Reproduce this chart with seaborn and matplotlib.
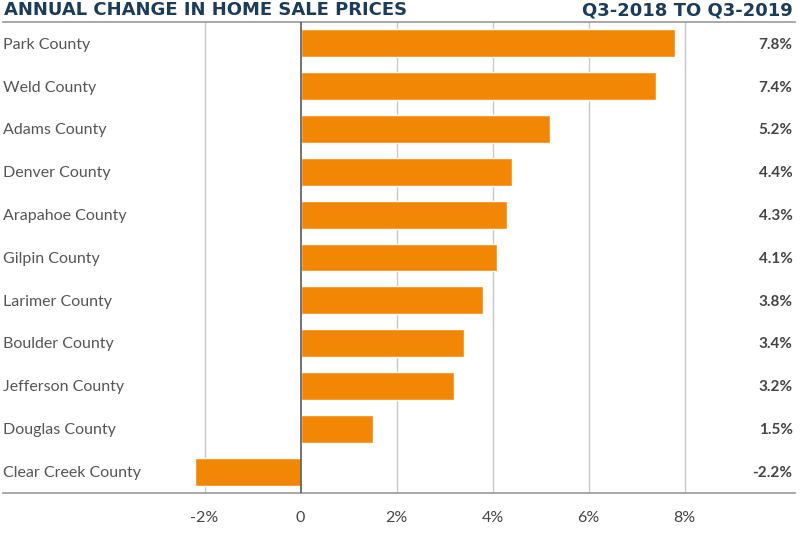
import matplotlib
matplotlib.use("Agg")
import matplotlib.pyplot as plt
import matplotlib.transforms as mtransforms
import pandas as pd
import seaborn as sns

# Data
counties = ["Park County", "Weld County", "Adams County", "Denver County",
            "Arapahoe County", "Gilpin County", "Larimer County", "Boulder County",
            "Jefferson County", "Douglas County", "Clear Creek County"]
changes = [7.8, 7.4, 5.2, 4.4, 4.3, 4.1, 3.8, 3.4, 3.2, 1.5, -2.2]
tick_values = [-2, 0, 2, 4, 6, 8]
tick_labels = ["-2%", "0", "2%", "4%", "6%", "8%"]

title_left = "ANNUAL CHANGE IN HOME SALE PRICES"
title_right = "Q3-2018 TO Q3-2019"

ORANGE = "#F28705"
NAVY = "#1D3C5A"
GRAY_TEXT = "#555555"

df = pd.DataFrame({"county": counties, "change": changes})

sns.set_style("white")
plt.rcParams["font.family"] = ["Lato", "DejaVu Sans"]

fig = plt.figure(figsize=(8, 5.4), dpi=100)
ax = fig.add_axes([3 / 800, 1 - 493 / 540, 792 / 800, 471 / 540])

sns.barplot(data=df, x="change", y="county", orient="h", color=ORANGE,
            saturation=1, width=0.65, ax=ax)

ax.set_xlim(-6.2, 10.3)
ax.set_ylim(len(counties) - 0.5, -0.5)

# vertical grid lines
for v in tick_values:
    if v == 0:
        ax.axvline(v, color="#666666", lw=1.3, zorder=3)
    else:
        ax.axvline(v, color="#c8c8c8", lw=1, zorder=0)

ax.set_xticks(tick_values)
ax.set_xticklabels(tick_labels, fontsize=11.5, color="#444444")
ax.tick_params(axis="x", length=0, pad=13)
ax.set_yticks([])
ax.set_xlabel("")
ax.set_ylabel("")

for side in ["left", "right"]:
    ax.spines[side].set_visible(False)
for side in ["top", "bottom"]:
    ax.spines[side].set_color("#999999")
    ax.spines[side].set_linewidth(1.2)

# county names on the left and values on the right
trans = mtransforms.blended_transform_factory(ax.transAxes, ax.transData)
for i, (name, val) in enumerate(zip(counties, changes)):
    ax.text(0.0, i + 0.03, name, transform=trans, ha="left", va="center",
            fontsize=11.5, color=GRAY_TEXT)
    ax.text(0.997, i + 0.03, f"{val:.1f}%", transform=trans, ha="right", va="center",
            fontsize=11, color="#444444", fontweight="bold")

fig.text(4 / 800, 1 - 10 / 540, title_left, ha="left", va="center",
         fontsize=13, fontweight="bold", color=NAVY, family="DejaVu Sans")
fig.text(793 / 800, 1 - 10 / 540, title_right, ha="right", va="center",
         fontsize=13, fontweight="bold", color=NAVY, family="DejaVu Sans")

fig.savefig("out.png", dpi=100)
